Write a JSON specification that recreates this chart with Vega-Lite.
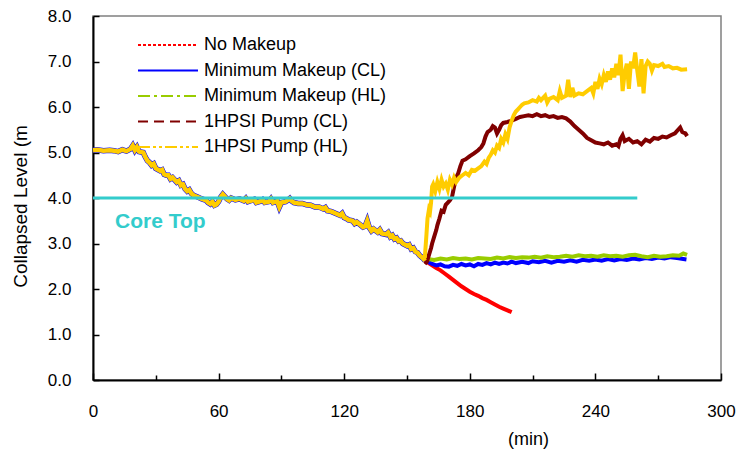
{
  "$schema": "https://vega.github.io/schema/vega-lite/v6.json",
  "autosize": {"type": "none"},
  "width": 628,
  "height": 364,
  "padding": {"left": 93, "top": 16, "right": 20, "bottom": 77},
  "background": "white",
  "config": {
    "font": "Liberation Sans",
    "view": {"stroke": "#808080", "strokeWidth": 1.5},
    "axis": {
      "domainColor": "black",
      "domainWidth": 2,
      "tickColor": "black",
      "tickWidth": 1.5,
      "grid": false,
      "labelFont": "Liberation Sans",
      "labelFontSize": 17,
      "labelColor": "black",
      "titleFont": "Liberation Sans",
      "titleFontSize": 18,
      "titleFontWeight": "normal",
      "titleColor": "black"
    }
  },
  "datasets": {
    "common": [
      {"t": 0, "v": 5.05}, {"t": 2, "v": 5.06}, {"t": 5, "v": 5.04}, {"t": 8, "v": 5.05}, {"t": 10, "v": 5.04},
      {"t": 12, "v": 5.02}, {"t": 14, "v": 5.06}, {"t": 16, "v": 5.03}, {"t": 18, "v": 5.08}, {"t": 19, "v": 5.15},
      {"t": 20, "v": 5.05}, {"t": 21, "v": 5.12}, {"t": 22, "v": 5.02}, {"t": 24, "v": 5.0}, {"t": 25, "v": 4.9},
      {"t": 26, "v": 4.82}, {"t": 27, "v": 4.78}, {"t": 28, "v": 4.72}, {"t": 29, "v": 4.75}, {"t": 30, "v": 4.65},
      {"t": 32, "v": 4.6}, {"t": 33, "v": 4.62}, {"t": 34, "v": 4.52}, {"t": 35, "v": 4.5}, {"t": 36, "v": 4.5},
      {"t": 37, "v": 4.42}, {"t": 38, "v": 4.45}, {"t": 40, "v": 4.35}, {"t": 41, "v": 4.38}, {"t": 42, "v": 4.28},
      {"t": 43, "v": 4.3}, {"t": 44, "v": 4.2}, {"t": 45, "v": 4.15}, {"t": 46, "v": 4.18}, {"t": 47, "v": 4.1},
      {"t": 48, "v": 4.06}, {"t": 50, "v": 4.02}, {"t": 52, "v": 3.98}, {"t": 54, "v": 3.95}, {"t": 55, "v": 3.9},
      {"t": 56, "v": 3.87}, {"t": 57, "v": 3.92}, {"t": 58, "v": 3.84}, {"t": 59, "v": 3.86}, {"t": 60, "v": 3.92},
      {"t": 61, "v": 4.02}, {"t": 62, "v": 4.08}, {"t": 63, "v": 4.03}, {"t": 64, "v": 3.98}, {"t": 65, "v": 3.95},
      {"t": 66, "v": 4.0}, {"t": 68, "v": 3.96}, {"t": 70, "v": 3.98}, {"t": 72, "v": 3.94}, {"t": 73, "v": 3.99},
      {"t": 74, "v": 3.92}, {"t": 76, "v": 3.95}, {"t": 77, "v": 3.97}, {"t": 78, "v": 3.9}, {"t": 80, "v": 3.93},
      {"t": 81, "v": 3.96}, {"t": 82, "v": 3.9}, {"t": 84, "v": 3.92}, {"t": 85, "v": 3.98}, {"t": 86, "v": 3.9},
      {"t": 88, "v": 3.93}, {"t": 89, "v": 3.8}, {"t": 90, "v": 3.9}, {"t": 92, "v": 3.92}, {"t": 93, "v": 3.95},
      {"t": 94, "v": 3.99}, {"t": 95, "v": 3.93}, {"t": 96, "v": 3.9}, {"t": 98, "v": 3.88}, {"t": 100, "v": 3.88},
      {"t": 102, "v": 3.85}, {"t": 104, "v": 3.84}, {"t": 106, "v": 3.8}, {"t": 108, "v": 3.8}, {"t": 110, "v": 3.76},
      {"t": 111, "v": 3.79}, {"t": 112, "v": 3.72}, {"t": 114, "v": 3.7}, {"t": 116, "v": 3.66}, {"t": 118, "v": 3.62},
      {"t": 119, "v": 3.66}, {"t": 120, "v": 3.57}, {"t": 121, "v": 3.55}, {"t": 122, "v": 3.52}, {"t": 124, "v": 3.5},
      {"t": 125, "v": 3.44}, {"t": 126, "v": 3.47}, {"t": 128, "v": 3.4}, {"t": 129, "v": 3.36}, {"t": 130, "v": 3.38},
      {"t": 131, "v": 3.5}, {"t": 132, "v": 3.35}, {"t": 133, "v": 3.28}, {"t": 134, "v": 3.32}, {"t": 136, "v": 3.25},
      {"t": 137, "v": 3.3}, {"t": 138, "v": 3.22}, {"t": 140, "v": 3.2}, {"t": 141, "v": 3.24}, {"t": 142, "v": 3.15},
      {"t": 143, "v": 3.18}, {"t": 144, "v": 3.1}, {"t": 145, "v": 3.12}, {"t": 146, "v": 3.05}, {"t": 147, "v": 3.06},
      {"t": 148, "v": 3.0}, {"t": 150, "v": 2.95}, {"t": 151, "v": 2.97}, {"t": 152, "v": 2.88}, {"t": 153, "v": 2.9},
      {"t": 154, "v": 2.82}, {"t": 155, "v": 2.8}, {"t": 156, "v": 2.74}, {"t": 157, "v": 2.7}, {"t": 158, "v": 2.66},
      {"t": 158.5, "v": 2.62}
    ],
    "branches": [
      {"series": "No Makeup", "t": 158.5, "v": 2.6}, {"series": "No Makeup", "t": 160, "v": 2.58},
      {"series": "No Makeup", "t": 162, "v": 2.52}, {"series": "No Makeup", "t": 164, "v": 2.46},
      {"series": "No Makeup", "t": 166, "v": 2.41}, {"series": "No Makeup", "t": 168, "v": 2.34},
      {"series": "No Makeup", "t": 170, "v": 2.27}, {"series": "No Makeup", "t": 172, "v": 2.2},
      {"series": "No Makeup", "t": 174, "v": 2.13}, {"series": "No Makeup", "t": 176, "v": 2.06},
      {"series": "No Makeup", "t": 178, "v": 2.0}, {"series": "No Makeup", "t": 180, "v": 1.94},
      {"series": "No Makeup", "t": 182, "v": 1.89}, {"series": "No Makeup", "t": 184, "v": 1.85},
      {"series": "No Makeup", "t": 186, "v": 1.8}, {"series": "No Makeup", "t": 188, "v": 1.76},
      {"series": "No Makeup", "t": 190, "v": 1.71}, {"series": "No Makeup", "t": 192, "v": 1.66},
      {"series": "No Makeup", "t": 194, "v": 1.61}, {"series": "No Makeup", "t": 196, "v": 1.57},
      {"series": "No Makeup", "t": 198, "v": 1.53}, {"series": "No Makeup", "t": 200, "v": 1.49},

      {"series": "Minimum Makeup (CL)", "t": 158.5, "v": 2.62}, {"series": "Minimum Makeup (CL)", "t": 160, "v": 2.6},
      {"series": "Minimum Makeup (CL)", "t": 162, "v": 2.55}, {"series": "Minimum Makeup (CL)", "t": 164, "v": 2.52},
      {"series": "Minimum Makeup (CL)", "t": 166, "v": 2.54}, {"series": "Minimum Makeup (CL)", "t": 168, "v": 2.5},
      {"series": "Minimum Makeup (CL)", "t": 170, "v": 2.49}, {"series": "Minimum Makeup (CL)", "t": 172, "v": 2.53},
      {"series": "Minimum Makeup (CL)", "t": 174, "v": 2.51}, {"series": "Minimum Makeup (CL)", "t": 176, "v": 2.55},
      {"series": "Minimum Makeup (CL)", "t": 178, "v": 2.52}, {"series": "Minimum Makeup (CL)", "t": 180, "v": 2.54},
      {"series": "Minimum Makeup (CL)", "t": 182, "v": 2.5}, {"series": "Minimum Makeup (CL)", "t": 184, "v": 2.55},
      {"series": "Minimum Makeup (CL)", "t": 186, "v": 2.53}, {"series": "Minimum Makeup (CL)", "t": 188, "v": 2.57},
      {"series": "Minimum Makeup (CL)", "t": 190, "v": 2.54}, {"series": "Minimum Makeup (CL)", "t": 192, "v": 2.58},
      {"series": "Minimum Makeup (CL)", "t": 194, "v": 2.55}, {"series": "Minimum Makeup (CL)", "t": 196, "v": 2.58},
      {"series": "Minimum Makeup (CL)", "t": 198, "v": 2.56}, {"series": "Minimum Makeup (CL)", "t": 200, "v": 2.6},
      {"series": "Minimum Makeup (CL)", "t": 202, "v": 2.57}, {"series": "Minimum Makeup (CL)", "t": 205, "v": 2.6},
      {"series": "Minimum Makeup (CL)", "t": 208, "v": 2.57}, {"series": "Minimum Makeup (CL)", "t": 210, "v": 2.61},
      {"series": "Minimum Makeup (CL)", "t": 213, "v": 2.59}, {"series": "Minimum Makeup (CL)", "t": 216, "v": 2.62},
      {"series": "Minimum Makeup (CL)", "t": 219, "v": 2.58}, {"series": "Minimum Makeup (CL)", "t": 222, "v": 2.62},
      {"series": "Minimum Makeup (CL)", "t": 225, "v": 2.6}, {"series": "Minimum Makeup (CL)", "t": 228, "v": 2.63},
      {"series": "Minimum Makeup (CL)", "t": 231, "v": 2.6}, {"series": "Minimum Makeup (CL)", "t": 234, "v": 2.64},
      {"series": "Minimum Makeup (CL)", "t": 237, "v": 2.62}, {"series": "Minimum Makeup (CL)", "t": 240, "v": 2.65},
      {"series": "Minimum Makeup (CL)", "t": 243, "v": 2.62}, {"series": "Minimum Makeup (CL)", "t": 246, "v": 2.66},
      {"series": "Minimum Makeup (CL)", "t": 249, "v": 2.63}, {"series": "Minimum Makeup (CL)", "t": 252, "v": 2.66},
      {"series": "Minimum Makeup (CL)", "t": 255, "v": 2.64}, {"series": "Minimum Makeup (CL)", "t": 258, "v": 2.67},
      {"series": "Minimum Makeup (CL)", "t": 261, "v": 2.65}, {"series": "Minimum Makeup (CL)", "t": 264, "v": 2.68},
      {"series": "Minimum Makeup (CL)", "t": 267, "v": 2.66}, {"series": "Minimum Makeup (CL)", "t": 270, "v": 2.69},
      {"series": "Minimum Makeup (CL)", "t": 273, "v": 2.67}, {"series": "Minimum Makeup (CL)", "t": 276, "v": 2.7},
      {"series": "Minimum Makeup (CL)", "t": 279, "v": 2.68}, {"series": "Minimum Makeup (CL)", "t": 282, "v": 2.66},
      {"series": "Minimum Makeup (CL)", "t": 283.5, "v": 2.65},

      {"series": "Minimum Makeup (HL)", "t": 158.5, "v": 2.64}, {"series": "Minimum Makeup (HL)", "t": 160, "v": 2.66},
      {"series": "Minimum Makeup (HL)", "t": 163, "v": 2.64}, {"series": "Minimum Makeup (HL)", "t": 166, "v": 2.67},
      {"series": "Minimum Makeup (HL)", "t": 169, "v": 2.65}, {"series": "Minimum Makeup (HL)", "t": 172, "v": 2.68},
      {"series": "Minimum Makeup (HL)", "t": 175, "v": 2.66}, {"series": "Minimum Makeup (HL)", "t": 178, "v": 2.67},
      {"series": "Minimum Makeup (HL)", "t": 181, "v": 2.65}, {"series": "Minimum Makeup (HL)", "t": 184, "v": 2.68},
      {"series": "Minimum Makeup (HL)", "t": 187, "v": 2.67}, {"series": "Minimum Makeup (HL)", "t": 190, "v": 2.66},
      {"series": "Minimum Makeup (HL)", "t": 193, "v": 2.69}, {"series": "Minimum Makeup (HL)", "t": 196, "v": 2.67},
      {"series": "Minimum Makeup (HL)", "t": 199, "v": 2.7}, {"series": "Minimum Makeup (HL)", "t": 202, "v": 2.68},
      {"series": "Minimum Makeup (HL)", "t": 205, "v": 2.7}, {"series": "Minimum Makeup (HL)", "t": 208, "v": 2.69},
      {"series": "Minimum Makeup (HL)", "t": 211, "v": 2.71}, {"series": "Minimum Makeup (HL)", "t": 214, "v": 2.69},
      {"series": "Minimum Makeup (HL)", "t": 217, "v": 2.72}, {"series": "Minimum Makeup (HL)", "t": 220, "v": 2.7},
      {"series": "Minimum Makeup (HL)", "t": 223, "v": 2.71}, {"series": "Minimum Makeup (HL)", "t": 226, "v": 2.73},
      {"series": "Minimum Makeup (HL)", "t": 229, "v": 2.71}, {"series": "Minimum Makeup (HL)", "t": 232, "v": 2.74},
      {"series": "Minimum Makeup (HL)", "t": 235, "v": 2.72}, {"series": "Minimum Makeup (HL)", "t": 238, "v": 2.73},
      {"series": "Minimum Makeup (HL)", "t": 241, "v": 2.71}, {"series": "Minimum Makeup (HL)", "t": 244, "v": 2.74},
      {"series": "Minimum Makeup (HL)", "t": 247, "v": 2.72}, {"series": "Minimum Makeup (HL)", "t": 250, "v": 2.73},
      {"series": "Minimum Makeup (HL)", "t": 253, "v": 2.71}, {"series": "Minimum Makeup (HL)", "t": 256, "v": 2.74},
      {"series": "Minimum Makeup (HL)", "t": 259, "v": 2.75}, {"series": "Minimum Makeup (HL)", "t": 262, "v": 2.72},
      {"series": "Minimum Makeup (HL)", "t": 265, "v": 2.7}, {"series": "Minimum Makeup (HL)", "t": 268, "v": 2.73},
      {"series": "Minimum Makeup (HL)", "t": 271, "v": 2.71}, {"series": "Minimum Makeup (HL)", "t": 274, "v": 2.72},
      {"series": "Minimum Makeup (HL)", "t": 277, "v": 2.74}, {"series": "Minimum Makeup (HL)", "t": 280, "v": 2.73},
      {"series": "Minimum Makeup (HL)", "t": 282, "v": 2.78}, {"series": "Minimum Makeup (HL)", "t": 283.8, "v": 2.75},

      {"series": "1HPSI Pump (CL)", "t": 158.5, "v": 2.55}, {"series": "1HPSI Pump (CL)", "t": 159.5, "v": 2.6},
      {"series": "1HPSI Pump (CL)", "t": 160.5, "v": 2.75}, {"series": "1HPSI Pump (CL)", "t": 161.5, "v": 2.9},
      {"series": "1HPSI Pump (CL)", "t": 162, "v": 3.0}, {"series": "1HPSI Pump (CL)", "t": 163, "v": 3.15},
      {"series": "1HPSI Pump (CL)", "t": 164, "v": 3.3}, {"series": "1HPSI Pump (CL)", "t": 164.5, "v": 3.4},
      {"series": "1HPSI Pump (CL)", "t": 165.5, "v": 3.55}, {"series": "1HPSI Pump (CL)", "t": 166.5, "v": 3.72},
      {"series": "1HPSI Pump (CL)", "t": 167.5, "v": 3.7}, {"series": "1HPSI Pump (CL)", "t": 168.5, "v": 3.85},
      {"series": "1HPSI Pump (CL)", "t": 169.5, "v": 3.9}, {"series": "1HPSI Pump (CL)", "t": 170.5, "v": 3.95},
      {"series": "1HPSI Pump (CL)", "t": 171.5, "v": 4.02}, {"series": "1HPSI Pump (CL)", "t": 172.5, "v": 4.25},
      {"series": "1HPSI Pump (CL)", "t": 173.5, "v": 4.45}, {"series": "1HPSI Pump (CL)", "t": 174.5, "v": 4.55},
      {"series": "1HPSI Pump (CL)", "t": 175.5, "v": 4.7}, {"series": "1HPSI Pump (CL)", "t": 176.5, "v": 4.82},
      {"series": "1HPSI Pump (CL)", "t": 178, "v": 4.85}, {"series": "1HPSI Pump (CL)", "t": 180, "v": 4.92},
      {"series": "1HPSI Pump (CL)", "t": 182, "v": 4.98}, {"series": "1HPSI Pump (CL)", "t": 184, "v": 5.05},
      {"series": "1HPSI Pump (CL)", "t": 185.5, "v": 5.12}, {"series": "1HPSI Pump (CL)", "t": 186.5, "v": 5.2},
      {"series": "1HPSI Pump (CL)", "t": 187.5, "v": 5.35}, {"series": "1HPSI Pump (CL)", "t": 188.5, "v": 5.45},
      {"series": "1HPSI Pump (CL)", "t": 190, "v": 5.5}, {"series": "1HPSI Pump (CL)", "t": 191, "v": 5.58},
      {"series": "1HPSI Pump (CL)", "t": 192, "v": 5.55}, {"series": "1HPSI Pump (CL)", "t": 193, "v": 5.42},
      {"series": "1HPSI Pump (CL)", "t": 194, "v": 5.5}, {"series": "1HPSI Pump (CL)", "t": 195, "v": 5.6},
      {"series": "1HPSI Pump (CL)", "t": 196, "v": 5.65}, {"series": "1HPSI Pump (CL)", "t": 198, "v": 5.67},
      {"series": "1HPSI Pump (CL)", "t": 200, "v": 5.7}, {"series": "1HPSI Pump (CL)", "t": 202, "v": 5.74},
      {"series": "1HPSI Pump (CL)", "t": 204, "v": 5.78}, {"series": "1HPSI Pump (CL)", "t": 206, "v": 5.8},
      {"series": "1HPSI Pump (CL)", "t": 208, "v": 5.82}, {"series": "1HPSI Pump (CL)", "t": 210, "v": 5.8},
      {"series": "1HPSI Pump (CL)", "t": 212, "v": 5.84}, {"series": "1HPSI Pump (CL)", "t": 214, "v": 5.8},
      {"series": "1HPSI Pump (CL)", "t": 216, "v": 5.82}, {"series": "1HPSI Pump (CL)", "t": 218, "v": 5.78},
      {"series": "1HPSI Pump (CL)", "t": 220, "v": 5.8}, {"series": "1HPSI Pump (CL)", "t": 222, "v": 5.76},
      {"series": "1HPSI Pump (CL)", "t": 224, "v": 5.78}, {"series": "1HPSI Pump (CL)", "t": 226, "v": 5.75},
      {"series": "1HPSI Pump (CL)", "t": 228, "v": 5.68}, {"series": "1HPSI Pump (CL)", "t": 230, "v": 5.58},
      {"series": "1HPSI Pump (CL)", "t": 232, "v": 5.5}, {"series": "1HPSI Pump (CL)", "t": 234, "v": 5.42},
      {"series": "1HPSI Pump (CL)", "t": 236, "v": 5.32}, {"series": "1HPSI Pump (CL)", "t": 238, "v": 5.27},
      {"series": "1HPSI Pump (CL)", "t": 240, "v": 5.22}, {"series": "1HPSI Pump (CL)", "t": 242, "v": 5.2},
      {"series": "1HPSI Pump (CL)", "t": 244, "v": 5.18}, {"series": "1HPSI Pump (CL)", "t": 246, "v": 5.22},
      {"series": "1HPSI Pump (CL)", "t": 248, "v": 5.15}, {"series": "1HPSI Pump (CL)", "t": 250, "v": 5.18},
      {"series": "1HPSI Pump (CL)", "t": 251, "v": 5.14}, {"series": "1HPSI Pump (CL)", "t": 252, "v": 5.3},
      {"series": "1HPSI Pump (CL)", "t": 253, "v": 5.38}, {"series": "1HPSI Pump (CL)", "t": 254, "v": 5.25},
      {"series": "1HPSI Pump (CL)", "t": 256, "v": 5.3}, {"series": "1HPSI Pump (CL)", "t": 258, "v": 5.22},
      {"series": "1HPSI Pump (CL)", "t": 260, "v": 5.25}, {"series": "1HPSI Pump (CL)", "t": 262, "v": 5.18},
      {"series": "1HPSI Pump (CL)", "t": 264, "v": 5.28}, {"series": "1HPSI Pump (CL)", "t": 266, "v": 5.24},
      {"series": "1HPSI Pump (CL)", "t": 268, "v": 5.32}, {"series": "1HPSI Pump (CL)", "t": 270, "v": 5.3},
      {"series": "1HPSI Pump (CL)", "t": 272, "v": 5.35}, {"series": "1HPSI Pump (CL)", "t": 274, "v": 5.33},
      {"series": "1HPSI Pump (CL)", "t": 276, "v": 5.38}, {"series": "1HPSI Pump (CL)", "t": 278, "v": 5.42},
      {"series": "1HPSI Pump (CL)", "t": 279.5, "v": 5.5}, {"series": "1HPSI Pump (CL)", "t": 280.5, "v": 5.55},
      {"series": "1HPSI Pump (CL)", "t": 281.5, "v": 5.45}, {"series": "1HPSI Pump (CL)", "t": 283, "v": 5.42},
      {"series": "1HPSI Pump (CL)", "t": 283.8, "v": 5.36},

      {"series": "1HPSI Pump (HL)", "t": 158.5, "v": 2.68}, {"series": "1HPSI Pump (HL)", "t": 159.3, "v": 3.2},
      {"series": "1HPSI Pump (HL)", "t": 159.8, "v": 3.55}, {"series": "1HPSI Pump (HL)", "t": 160.5, "v": 3.75},
      {"series": "1HPSI Pump (HL)", "t": 161, "v": 3.7}, {"series": "1HPSI Pump (HL)", "t": 161.5, "v": 3.9},
      {"series": "1HPSI Pump (HL)", "t": 162, "v": 4.25}, {"series": "1HPSI Pump (HL)", "t": 162.5, "v": 4.3},
      {"series": "1HPSI Pump (HL)", "t": 163.5, "v": 4.15}, {"series": "1HPSI Pump (HL)", "t": 164.5, "v": 4.35},
      {"series": "1HPSI Pump (HL)", "t": 165.5, "v": 4.2}, {"series": "1HPSI Pump (HL)", "t": 166.5, "v": 4.4},
      {"series": "1HPSI Pump (HL)", "t": 167.5, "v": 4.25}, {"series": "1HPSI Pump (HL)", "t": 168.5, "v": 4.32},
      {"series": "1HPSI Pump (HL)", "t": 169.5, "v": 4.18}, {"series": "1HPSI Pump (HL)", "t": 170.5, "v": 4.4},
      {"series": "1HPSI Pump (HL)", "t": 171.5, "v": 4.3}, {"series": "1HPSI Pump (HL)", "t": 172.5, "v": 4.45},
      {"series": "1HPSI Pump (HL)", "t": 173.5, "v": 4.35}, {"series": "1HPSI Pump (HL)", "t": 175, "v": 4.45},
      {"series": "1HPSI Pump (HL)", "t": 176.5, "v": 4.5}, {"series": "1HPSI Pump (HL)", "t": 178, "v": 4.55},
      {"series": "1HPSI Pump (HL)", "t": 179.5, "v": 4.5}, {"series": "1HPSI Pump (HL)", "t": 181, "v": 4.62},
      {"series": "1HPSI Pump (HL)", "t": 182.5, "v": 4.6}, {"series": "1HPSI Pump (HL)", "t": 184, "v": 4.65},
      {"series": "1HPSI Pump (HL)", "t": 185.5, "v": 4.7}, {"series": "1HPSI Pump (HL)", "t": 187, "v": 4.8},
      {"series": "1HPSI Pump (HL)", "t": 188, "v": 4.75}, {"series": "1HPSI Pump (HL)", "t": 189, "v": 4.88},
      {"series": "1HPSI Pump (HL)", "t": 190, "v": 4.95}, {"series": "1HPSI Pump (HL)", "t": 191, "v": 5.05},
      {"series": "1HPSI Pump (HL)", "t": 192, "v": 5.0}, {"series": "1HPSI Pump (HL)", "t": 193, "v": 5.15},
      {"series": "1HPSI Pump (HL)", "t": 194, "v": 5.1}, {"series": "1HPSI Pump (HL)", "t": 195, "v": 5.3},
      {"series": "1HPSI Pump (HL)", "t": 196, "v": 5.22}, {"series": "1HPSI Pump (HL)", "t": 197, "v": 5.4},
      {"series": "1HPSI Pump (HL)", "t": 198, "v": 5.3}, {"series": "1HPSI Pump (HL)", "t": 199, "v": 5.55},
      {"series": "1HPSI Pump (HL)", "t": 200, "v": 5.7}, {"series": "1HPSI Pump (HL)", "t": 201, "v": 5.82},
      {"series": "1HPSI Pump (HL)", "t": 202, "v": 5.9}, {"series": "1HPSI Pump (HL)", "t": 203, "v": 5.95},
      {"series": "1HPSI Pump (HL)", "t": 204, "v": 6.0}, {"series": "1HPSI Pump (HL)", "t": 205, "v": 6.05},
      {"series": "1HPSI Pump (HL)", "t": 206, "v": 6.08}, {"series": "1HPSI Pump (HL)", "t": 208, "v": 6.1},
      {"series": "1HPSI Pump (HL)", "t": 210, "v": 6.15}, {"series": "1HPSI Pump (HL)", "t": 212, "v": 6.12},
      {"series": "1HPSI Pump (HL)", "t": 213, "v": 6.2}, {"series": "1HPSI Pump (HL)", "t": 214, "v": 6.15},
      {"series": "1HPSI Pump (HL)", "t": 216, "v": 6.25}, {"series": "1HPSI Pump (HL)", "t": 217, "v": 6.1},
      {"series": "1HPSI Pump (HL)", "t": 218, "v": 6.18}, {"series": "1HPSI Pump (HL)", "t": 220, "v": 6.22},
      {"series": "1HPSI Pump (HL)", "t": 222, "v": 6.15}, {"series": "1HPSI Pump (HL)", "t": 223, "v": 6.35},
      {"series": "1HPSI Pump (HL)", "t": 224, "v": 6.2}, {"series": "1HPSI Pump (HL)", "t": 226, "v": 6.25},
      {"series": "1HPSI Pump (HL)", "t": 227, "v": 6.6}, {"series": "1HPSI Pump (HL)", "t": 228, "v": 6.22},
      {"series": "1HPSI Pump (HL)", "t": 229, "v": 6.42}, {"series": "1HPSI Pump (HL)", "t": 230, "v": 6.25},
      {"series": "1HPSI Pump (HL)", "t": 232, "v": 6.3}, {"series": "1HPSI Pump (HL)", "t": 234, "v": 6.28},
      {"series": "1HPSI Pump (HL)", "t": 236, "v": 6.35}, {"series": "1HPSI Pump (HL)", "t": 238, "v": 6.42},
      {"series": "1HPSI Pump (HL)", "t": 239, "v": 6.3}, {"series": "1HPSI Pump (HL)", "t": 240, "v": 6.55},
      {"series": "1HPSI Pump (HL)", "t": 241, "v": 6.4}, {"series": "1HPSI Pump (HL)", "t": 242, "v": 6.62},
      {"series": "1HPSI Pump (HL)", "t": 243, "v": 6.5}, {"series": "1HPSI Pump (HL)", "t": 244, "v": 6.7},
      {"series": "1HPSI Pump (HL)", "t": 245, "v": 6.55}, {"series": "1HPSI Pump (HL)", "t": 246, "v": 6.78},
      {"series": "1HPSI Pump (HL)", "t": 247, "v": 6.6}, {"series": "1HPSI Pump (HL)", "t": 248, "v": 6.85},
      {"series": "1HPSI Pump (HL)", "t": 249, "v": 6.65}, {"series": "1HPSI Pump (HL)", "t": 250, "v": 6.95},
      {"series": "1HPSI Pump (HL)", "t": 251, "v": 6.7}, {"series": "1HPSI Pump (HL)", "t": 252, "v": 7.15},
      {"series": "1HPSI Pump (HL)", "t": 253, "v": 6.35}, {"series": "1HPSI Pump (HL)", "t": 254, "v": 6.75},
      {"series": "1HPSI Pump (HL)", "t": 255, "v": 6.95}, {"series": "1HPSI Pump (HL)", "t": 256, "v": 6.4},
      {"series": "1HPSI Pump (HL)", "t": 257, "v": 7.0}, {"series": "1HPSI Pump (HL)", "t": 258, "v": 6.85},
      {"series": "1HPSI Pump (HL)", "t": 259, "v": 7.2}, {"series": "1HPSI Pump (HL)", "t": 260, "v": 6.8},
      {"series": "1HPSI Pump (HL)", "t": 261, "v": 6.45}, {"series": "1HPSI Pump (HL)", "t": 262, "v": 7.05},
      {"series": "1HPSI Pump (HL)", "t": 263, "v": 6.3}, {"series": "1HPSI Pump (HL)", "t": 264, "v": 6.9},
      {"series": "1HPSI Pump (HL)", "t": 265, "v": 7.0}, {"series": "1HPSI Pump (HL)", "t": 266, "v": 6.95},
      {"series": "1HPSI Pump (HL)", "t": 267, "v": 6.8}, {"series": "1HPSI Pump (HL)", "t": 268, "v": 6.92},
      {"series": "1HPSI Pump (HL)", "t": 270, "v": 6.9}, {"series": "1HPSI Pump (HL)", "t": 272, "v": 6.95},
      {"series": "1HPSI Pump (HL)", "t": 273, "v": 6.88}, {"series": "1HPSI Pump (HL)", "t": 275, "v": 6.9},
      {"series": "1HPSI Pump (HL)", "t": 277, "v": 6.85}, {"series": "1HPSI Pump (HL)", "t": 279, "v": 6.86},
      {"series": "1HPSI Pump (HL)", "t": 281, "v": 6.82}, {"series": "1HPSI Pump (HL)", "t": 283.8, "v": 6.83}
    ],
    "coreTop": [{"label": "Core Top", "level": 4.0, "start": 0, "end": 260}]
  },
  "layer": [
    {
      "data": {"name": "common"},
      "mark": {"type": "line", "color": "#0000FF", "strokeWidth": 5.5, "clip": true},
      "encoding": {
        "x": {"field": "t", "type": "quantitative"},
        "y": {"field": "v", "type": "quantitative"}
      }
    },
    {
      "data": {"name": "branches"},
      "mark": {"type": "line", "strokeWidth": 4, "clip": true},
      "encoding": {
        "x": {
          "field": "t",
          "type": "quantitative",
          "scale": {"domain": [0, 300], "nice": false, "zero": false},
          "axis": {
            "title": "(min)",
            "values": [0, 30, 60, 90, 120, 150, 180, 210, 240, 270, 300],
            "labelExpr": "datum.value % 60 === 0 ? datum.label : ''",
            "labelFlush": false,
            "tickSize": {"condition": {"test": "datum.value % 60 === 0", "value": -7}, "value": -5},
            "labelPadding": 30,
            "titleX": 435,
            "titleY": 50,
            "titleAnchor": "middle"
          }
        },
        "y": {
          "field": "v",
          "type": "quantitative",
          "scale": {"domain": [0, 8], "nice": false, "zero": false},
          "axis": {
            "title": "Collapsed Level (m",
            "titleFontSize": 19,
            "values": [0, 1, 2, 3, 4, 5, 6, 7, 8],
            "format": ".1f",
            "labelFlush": false,
            "tickSize": -6,
            "labelPadding": 28,
            "titleX": -73,
            "titleY": 190,
            "titleAnchor": "middle",
            "titleBaseline": "middle"
          }
        },
        "color": {
          "field": "series",
          "type": "nominal",
          "sort": null,
          "scale": {
            "domain": ["No Makeup", "Minimum Makeup (CL)", "Minimum Makeup (HL)", "1HPSI Pump (CL)", "1HPSI Pump (HL)"],
            "range": ["#FF0000", "#0000FF", "#99CC00", "#800000", "#FFCC00"]
          },
          "legend": {
            "title": null,
            "orient": "none",
            "legendX": 64,
            "legendY": 18,
            "padding": 0,
            "symbolType": "M-3,0H3",
            "symbolSize": 400,
            "symbolStrokeWidth": 2,
            "labelFont": "Liberation Sans",
            "labelFontSize": 18,
            "labelColor": "black",
            "labelOffset": 25,
            "rowPadding": 5.5,
            "labelLimit": 400,
            "encode": {
              "symbols": {
                "update": {
                  "strokeDash": {"signal": "datum.value === 'No Makeup' ? [3, 2] : datum.value === 'Minimum Makeup (CL)' ? [1, 0] : datum.value === 'Minimum Makeup (HL)' ? [12, 4, 3, 4] : datum.value === '1HPSI Pump (CL)' ? [10, 6] : [12, 3, 3, 3, 3, 3]"}
                }
              }
            }
          }
        },
        "order": {"field": "t", "type": "quantitative"}
      }
    },
    {
      "data": {"name": "common"},
      "mark": {"type": "line", "color": "#FFCC00", "strokeWidth": 4.5, "clip": true},
      "encoding": {
        "x": {"field": "t", "type": "quantitative"},
        "y": {"field": "v", "type": "quantitative"}
      }
    },
    {
      "data": {"name": "coreTop"},
      "mark": {"type": "rule", "color": "#33CCCC", "strokeWidth": 3},
      "encoding": {
        "x": {"field": "start", "type": "quantitative"},
        "x2": {"field": "end"},
        "y": {"field": "level", "type": "quantitative"}
      }
    },
    {
      "data": {"name": "coreTop"},
      "mark": {"type": "text", "color": "#33CCCC", "font": "Liberation Sans", "fontSize": 21, "fontWeight": "bold", "align": "left", "baseline": "middle", "dx": 22, "dy": 24},
      "encoding": {
        "text": {"field": "label"},
        "x": {"field": "start", "type": "quantitative"},
        "y": {"field": "level", "type": "quantitative"}
      }
    }
  ]
}
